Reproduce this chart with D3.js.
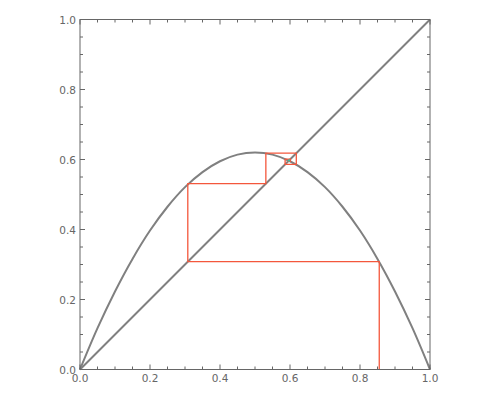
<!DOCTYPE html>
<html><head><meta charset="utf-8">
<script src="https://cdn.jsdelivr.net/npm/d3@7"></script>
<style>body{margin:0;background:#fff}svg{display:block}</style>
</head><body>
<svg id="c" width="500" height="400"></svg>
<script>
// parabola samples
const curveX = [0,0.05,0.1,0.15,0.2,0.25,0.3,0.35,0.4,0.45,0.5,0.55,0.6,0.65,0.7,0.75,0.8,0.85,0.9,0.95,1];
const curveY = [0,0.118,0.223,0.316,0.397,0.465,0.521,0.564,0.595,0.614,0.62,0.614,0.595,0.564,0.521,0.465,0.397,0.316,0.223,0.118,0];
// cobweb iterates
const startX = 0.855;
const iterates = [0.308,0.531,0.618,0.586,0.601,0.595,0.598,0.596,0.597];
const tickValues = [0,0.2,0.4,0.6,0.8,1.0];
const tickLabels = ["0.0","0.2","0.4","0.6","0.8","1.0"];

const svg = d3.select("#c");
const L=80,R=430,T=19.5,B=369.5;
const x = d3.scaleLinear().domain([0,1]).range([L,R]);
const y = d3.scaleLinear().domain([0,1]).range([B,T]);

// diagonal
svg.append("line").attr("x1",x(0)).attr("y1",y(0)).attr("x2",x(1)).attr("y2",y(1))
  .attr("stroke","#808080").attr("stroke-width",2);
// parabola
const pts = curveX.map((v,i)=>[v,curveY[i]]);
svg.append("path").datum(pts)
  .attr("d",d3.line().x(d=>x(d[0])).y(d=>y(d[1])).curve(d3.curveCatmullRom))
  .attr("fill","none").attr("stroke","#808080").attr("stroke-width",2);
// cobweb
const web=[[startX,0]];
let cur=startX;
iterates.forEach(v=>{web.push([cur,v]);web.push([v,v]);cur=v;});
svg.append("path").datum(web)
  .attr("d",d3.line().x(d=>x(d[0])).y(d=>y(d[1])))
  .attr("fill","none").attr("stroke","#f4573c").attr("stroke-width",1.3);
svg.append("circle").attr("cx",x(iterates[iterates.length-1])).attr("cy",y(iterates[iterates.length-1]))
  .attr("r",1.3).attr("fill","#3cb89a");

// frame
svg.append("rect").attr("x",L).attr("y",T).attr("width",R-L).attr("height",B-T)
  .attr("fill","none").attr("stroke","#666").attr("stroke-width",1);
const minor = d3.range(0,1.0001,0.05);
const tc="#666";
const g=svg.append("g").attr("stroke",tc).attr("stroke-width",1);
minor.forEach(v=>{
  const major = tickValues.some(t=>Math.abs(t-v)<1e-6);
  const len = major?5:3;
  g.append("line").attr("x1",x(v)).attr("x2",x(v)).attr("y1",B).attr("y2",B-len);
  g.append("line").attr("x1",x(v)).attr("x2",x(v)).attr("y1",T).attr("y2",T+len);
  g.append("line").attr("y1",y(v)).attr("y2",y(v)).attr("x1",L).attr("x2",L+len);
  g.append("line").attr("y1",y(v)).attr("y2",y(v)).attr("x1",R).attr("x2",R-len);
});
const fs = {"font-family":"DejaVu Sans, sans-serif","font-size":"10.5px","fill":"#666"};
tickValues.forEach((v,i)=>{
  const t1=svg.append("text").attr("x",x(v)).attr("y",B+12).attr("text-anchor","middle").text(tickLabels[i]);
  const t2=svg.append("text").attr("x",L-4).attr("y",y(v)+4).attr("text-anchor","end").text(tickLabels[i]);
  for(const k in fs){t1.attr(k,fs[k]);t2.attr(k,fs[k]);}
});
</script>
</body></html>
